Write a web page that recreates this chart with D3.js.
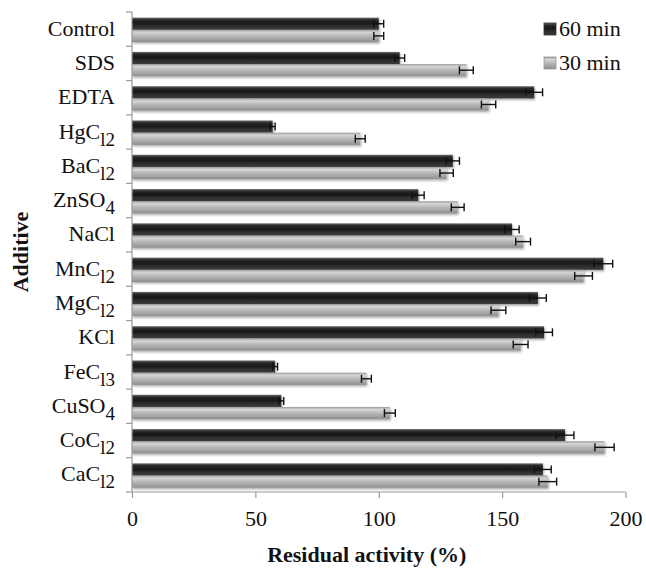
<!DOCTYPE html>
<html>
<head>
<meta charset="utf-8">
<script src="https://cdn.jsdelivr.net/npm/d3@7"></script>
<style>
  body { margin: 0; background: #fff; }
</style>
</head>
<body>
<svg id="vis" width="646" height="570"></svg>
<script>
// additive names: [main, subscript]
const additives = [
  ["Control", ""], ["SDS", ""], ["EDTA", ""], ["HgC", "l2"], ["BaC", "l2"],
  ["ZnSO", "4"], ["NaCl", ""], ["MnC", "l2"], ["MgC", "l2"], ["KCl", ""],
  ["FeC", "l3"], ["CuSO", "4"], ["CoC", "l2"], ["CaC", "l2"]
];
const series = ["60 min", "30 min"];
const values60 = [100, 108.5, 163, 57, 130, 116, 154, 191, 164.5, 167, 58, 60.5, 175.5, 166.5];
const errors60 = [2, 2, 3.4, 1, 2.7, 2.4, 2.9, 3.8, 3.4, 3.4, 1, 1, 3.6, 3.4];
const values30 = [100, 135.5, 144.5, 92.5, 127.5, 132, 158.5, 183, 148.5, 157.5, 95, 104.5, 191.5, 168.5];
const errors30 = [2, 2.8, 2.9, 2, 2.7, 2.6, 3, 3.6, 3, 3, 2, 2.2, 3.9, 3.6];
const xTicks = [0, 50, 100, 150, 200];

const FONT = "'Liberation Serif', 'DejaVu Serif', serif";

const svg = d3.select("#vis");
const plotLeft = 132, plotRight = 625.5, plotTop = 12, plotBottom = 492;

const x = d3.scaleLinear().domain([0, 200]).range([plotLeft, plotRight]);
const y = d3.scaleBand().domain(d3.range(additives.length)).range([plotTop, plotBottom]).padding(0);
const step = y.step();
const inner = d3.scaleBand().domain(series).range([step * 0.165, step * 0.875]).padding(0);

// gradients + shadow
const defs = svg.append("defs");
const gDark = defs.append("linearGradient").attr("id", "gDark").attr("x1", 0).attr("x2", 0).attr("y1", 0).attr("y2", 1);
[[0, "#6a6a6a"], [0.18, "#2a2a2a"], [0.45, "#181818"], [0.7, "#2e2e2e"], [1, "#3c3c3c"]]
  .forEach(([o, c]) => gDark.append("stop").attr("offset", o).attr("stop-color", c));
const gLight = defs.append("linearGradient").attr("id", "gLight").attr("x1", 0).attr("x2", 0).attr("y1", 0).attr("y2", 1);
[[0, "#9a9a9a"], [0.2, "#d6d6d6"], [0.5, "#b8b8b8"], [0.8, "#a0a0a0"], [1, "#8c8c8c"]]
  .forEach(([o, c]) => gLight.append("stop").attr("offset", o).attr("stop-color", c));
const shadow = defs.append("filter").attr("id", "shadow").attr("x", "-5%").attr("y", "-30%").attr("width", "110%").attr("height", "180%");
shadow.append("feDropShadow").attr("dx", 1).attr("dy", 1.5).attr("stdDeviation", 1.2).attr("flood-color", "#000").attr("flood-opacity", 0.35);

const fills = { "60 min": "url(#gDark)", "30 min": "url(#gLight)" };

// bars
const rows = additives.map((a, i) => ({
  i,
  bars: [
    { s: "60 min", v: values60[i], e: errors60[i] },
    { s: "30 min", v: values30[i], e: errors30[i] }
  ]
}));

const groups = svg.append("g").selectAll("g").data(rows).join("g")
  .attr("transform", d => `translate(0,${y(d.i)})`);

groups.selectAll("rect").data(d => d.bars).join("rect")
  .attr("x", x(0))
  .attr("y", d => inner(d.s))
  .attr("width", d => x(d.v) - x(0))
  .attr("height", inner.bandwidth())
  .attr("fill", d => fills[d.s])
  .attr("filter", "url(#shadow)");

// error bars
const eb = groups.selectAll("g.err").data(d => d.bars).join("g").attr("class", "err")
  .attr("stroke", "#111").attr("stroke-width", 1.4);
eb.append("line")
  .attr("x1", d => x(d.v - d.e)).attr("x2", d => x(d.v + d.e))
  .attr("y1", d => inner(d.s) + inner.bandwidth() / 2)
  .attr("y2", d => inner(d.s) + inner.bandwidth() / 2);
[-1, 1].forEach(sg => {
  eb.append("line")
    .attr("x1", d => x(d.v + sg * d.e)).attr("x2", d => x(d.v + sg * d.e))
    .attr("y1", d => inner(d.s) + inner.bandwidth() / 2 - 4)
    .attr("y2", d => inner(d.s) + inner.bandwidth() / 2 + 4);
});

// axes
const axisColor = "#9a9a9a";
svg.append("line").attr("x1", plotLeft).attr("x2", plotLeft).attr("y1", plotTop).attr("y2", plotBottom)
  .attr("stroke", axisColor).attr("stroke-width", 1.2);
svg.append("line").attr("x1", plotLeft).attr("x2", plotRight).attr("y1", plotBottom).attr("y2", plotBottom)
  .attr("stroke", axisColor).attr("stroke-width", 1.2);

// y category ticks at band boundaries
const bounds = d3.range(additives.length + 1).map(i => plotTop + i * step);
svg.append("g").selectAll("line").data(bounds).join("line")
  .attr("x1", plotLeft - 6).attr("x2", plotLeft).attr("y1", d => d).attr("y2", d => d)
  .attr("stroke", axisColor).attr("stroke-width", 1.2);

// x axis
const xAxis = svg.append("g").attr("transform", `translate(0,${plotBottom})`)
  .call(d3.axisBottom(x).tickValues(xTicks).tickSize(6).tickPadding(12));
xAxis.attr("font-family", FONT).attr("font-size", 22);
xAxis.select(".domain").remove();
xAxis.selectAll("line").attr("stroke", axisColor).attr("stroke-width", 1.2);
xAxis.selectAll("text").attr("fill", "#111");

// category labels
const labels = svg.append("g").attr("font-family", FONT).selectAll("text").data(additives).join("text")
  .attr("x", plotLeft - 17)
  .attr("y", (d, i) => y(i) + step / 2 + 6.5)
  .attr("text-anchor", "end")
  .attr("font-size", 22)
  .attr("fill", "#111");
labels.append("tspan").text(d => d[0]);
labels.filter(d => d[1]).append("tspan")
  .attr("dy", 7).attr("font-size", 19).text(d => d[1]);

// axis titles
svg.append("text")
  .attr("x", (plotLeft + plotRight) / 2 - 12).attr("y", 562)
  .attr("font-family", FONT)
  .attr("text-anchor", "middle").attr("font-size", 22).attr("font-weight", "bold")
  .attr("fill", "#111").text("Residual activity (%)");
svg.append("text")
  .attr("transform", `translate(28,${(plotTop + plotBottom) / 2}) rotate(-90)`)
  .attr("font-family", FONT)
  .attr("text-anchor", "middle").attr("font-size", 22).attr("font-weight", "bold")
  .attr("fill", "#111").text("Additive");

// legend
const legend = svg.append("g").selectAll("g").data(series).join("g")
  .attr("transform", (d, i) => `translate(544,${23 + i * 34})`);
legend.append("rect").attr("width", 12).attr("height", 12)
  .attr("fill", d => fills[d]).attr("stroke", d => d === "60 min" ? "#333" : "#999").attr("stroke-width", 0.8);
legend.append("text").attr("x", 15).attr("y", 12.5)
  .attr("font-family", FONT)
  .attr("font-size", 22).attr("fill", "#111").text(d => d);
</script>
</body>
</html>
